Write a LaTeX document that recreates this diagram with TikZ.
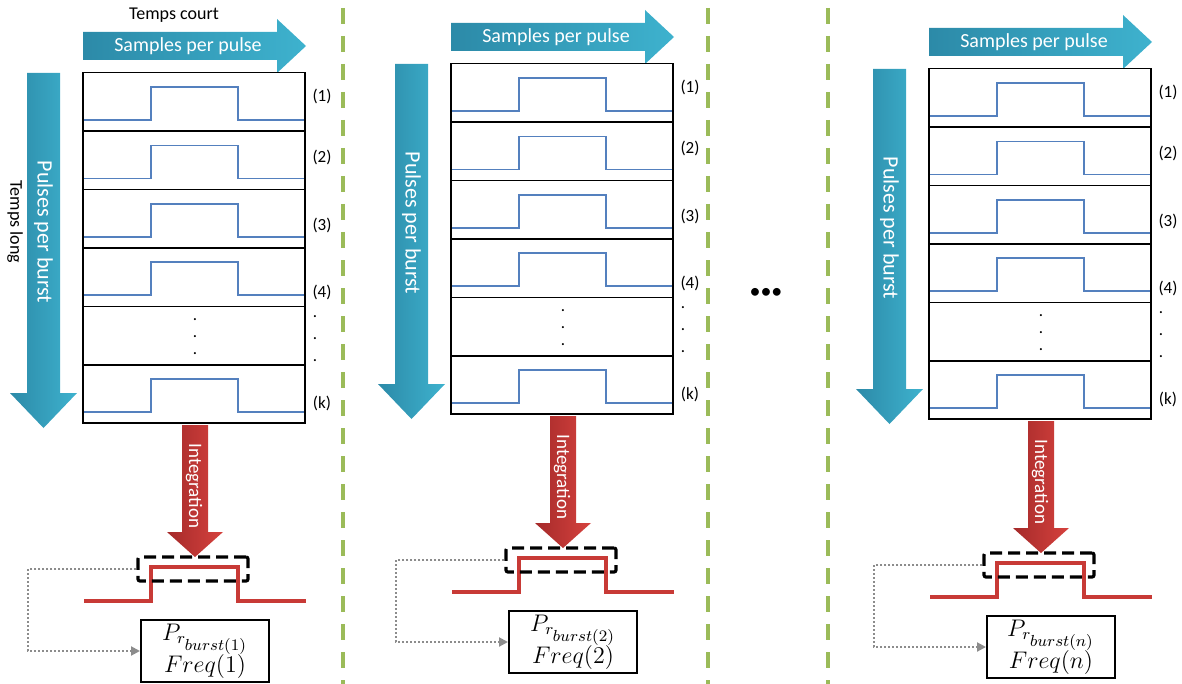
\documentclass[tikz,border=0pt]{standalone}
\usepackage[no-math]{fontspec}
\setmainfont{Carlito}
\usetikzlibrary{positioning,arrows.meta,calc}
\definecolor{tealdark}{RGB}{44,138,168}
\definecolor{teallight}{RGB}{62,178,206}
\definecolor{reddark}{RGB}{165,42,42}
\definecolor{redlight}{RGB}{214,66,62}
\definecolor{pulseblue}{RGB}{84,128,190}
\definecolor{pulsered}{RGB}{200,58,54}
\definecolor{sepgreen}{RGB}{155,187,89}
\definecolor{linkgrey}{gray}{0.55}
\tikzset{
  fig/.style={font=\small},
  txt/.style={font=\fontsize{9}{10}\selectfont,inner sep=1pt},
  arrowtxt/.style={text=white,inner sep=0pt},
  tealarrow/.style={left color=tealdark,right color=teallight},
  redarrow/.style={left color=reddark,right color=redlight},
  rowbox/.style={draw,line width=0.8pt,minimum width=111pt,minimum height=29.2pt,
                 inner sep=0pt,outer sep=0pt},
  bluepulse/.style={pulseblue,line width=0.9pt},
  redpulse/.style={pulsered,line width=1.8pt},
  focus/.style={draw,line width=1.6pt,dash pattern=on 6pt off 3pt,rounded corners=1pt,
                minimum width=55pt,minimum height=12pt,inner sep=0pt},
  resbox/.style={draw,line width=1pt,minimum width=64pt,minimum height=31pt,
                 inner sep=0.5pt,align=center,font=\fontsize{12}{11}\selectfont},
  link/.style={linkgrey,line width=1pt,densely dotted,
               -{Triangle[length=4.5pt,width=4.5pt]}},
  sepline/.style={sepgreen,line width=1.6pt,dash pattern=on 8pt off 6pt},
  lbl/.style={font=\fontsize{8.5}{10}\selectfont,inner sep=0pt},
}

\begin{document}
\begin{tikzpicture}[fig,x=0.5pt,y=-0.5pt]
\useasboundingbox (0,0) rectangle (1182,684);

% separators between the bursts
\foreach \xs in {343,708,828}
  \draw[sepline] (\xs,8) -- (\xs,684);

\node[txt] (court) at (174,15) {Temps court};
\node[txt,rotate=-90] (long) at (15,222) {Temps long};
\node[font=\fontsize{11}{12}\selectfont,inner sep=0pt] (etc) at (766,293)
     {\textbullet\textbullet\textbullet};

% ------------------------------------------------ one burst per panel
\foreach \p/\dx/\dy/\n in {1/0/0/1, 2/368/-9/2, 3/846/-4/n}{
\begin{scope}[shift={(\dx,\dy)}]
  % time axes
  \shade[tealarrow] (83,32) -- (277,32) -- (277,19) -- (306,46) -- (277,73)
        -- (277,60) -- (83,60) -- cycle;
  \node[arrowtxt,font=\fontsize{10}{12}\selectfont] (spp\p) at (188,46)
       {Samples per pulse};
  \shade[tealarrow] (27,73) -- (60,73) -- (60,393) -- (77,393) -- (43.5,428)
        -- (10,393) -- (27,393) -- cycle;
  \node[arrowtxt,rotate=-90,font=\fontsize{11}{12}\selectfont] (ppb\p) at (43.5,232)
       {Pulses per burst};

  % pulses of the burst
  \foreach \i in {1,...,6}{
    \pgfmathsetmacro{\yt}{72.7+58.4*(\i-1)}
    \node[rowbox,anchor=north west] (row\p-\i) at (83,\yt) {};
  }
  \foreach \i in {1,2,3,4,6}{
    \pgfmathsetmacro{\yb}{72.7+58.4*\i-11}
    \draw[bluepulse] (84,\yb) -- (151,\yb) -- (151,\yb-33) -- (238,\yb-33)
          -- (238,\yb) -- (304,\yb);
  }
  \foreach \yd [count=\j] in {320,337,354}
    \node[lbl] (rd\p-\j) at (195,\yd) {.};
  \foreach \t/\yl in {1/96,2/157,3/225,4/292,k/403}
    \node[lbl] (lab\p-\t) at (322,\yl) {(\t)};
  \foreach \yd [count=\j] in {317,339,361}
    \node[lbl] (ld\p-\j) at (315,\yd) {.};

  % integration
  \shade[redarrow] (182,425) -- (208,425) -- (208,532) -- (223,532) -- (195,557)
        -- (167,532) -- (182,532) -- cycle;
  \node[arrowtxt,rotate=-90,font=\fontsize{9.5}{11}\selectfont] (int\p) at (194,486)
       {Integration};
  \draw[redpulse] (84,601) -- (151,601) -- (151,567) -- (238,567) -- (238,601)
        -- (306,601);
  \node[focus] (db\p) at (193,569) {};
  \node[resbox] (pb\p) at (205,651)
       {$P_{r_{\scriptstyle burst(\n)}}$\\[-1pt]$Freq(\n)$};
  \draw[link] (db\p.west) -- ++(-108,0) |- (pb\p.west);
\end{scope}
}

\end{tikzpicture}
\end{document}
